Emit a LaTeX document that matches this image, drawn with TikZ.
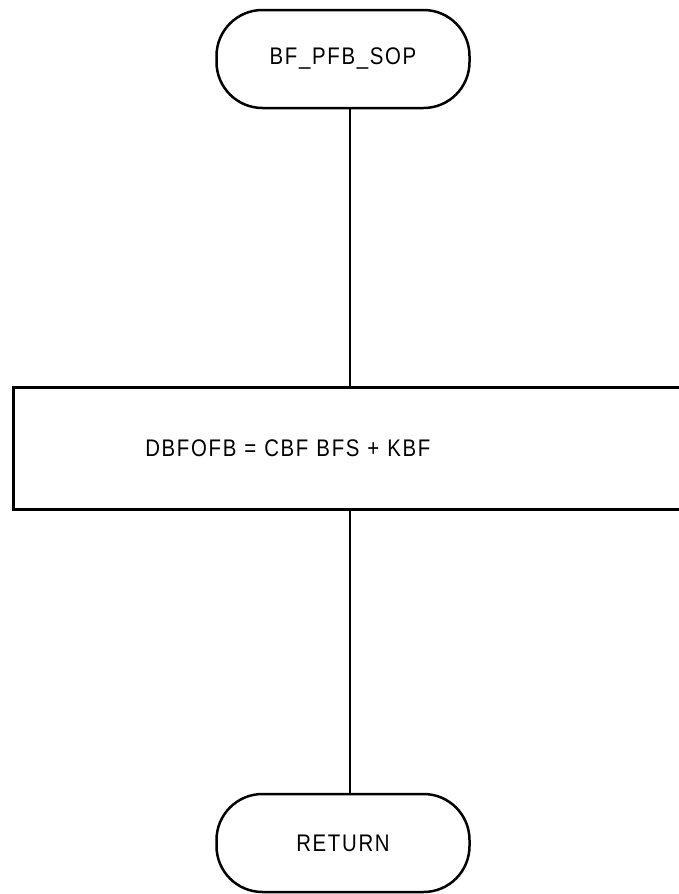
\documentclass[tikz,border=0pt]{standalone}
\usepackage{fontspec}
\setmainfont{Liberation Sans}[FakeStretch=0.85,LetterSpace=7]
\usetikzlibrary{positioning}

\begin{document}
\begin{tikzpicture}[
  x=1pt, y=-1pt,
  every node/.style={font=\fontsize{24}{28}\selectfont},
  term/.style={draw, line width=2.5pt, rounded corners=46pt, minimum width=253pt,
               minimum height=98pt, inner sep=0pt},
  proc/.style={draw, line width=2.5pt, minimum height=122pt, text width=600pt,
               align=left, inner xsep=132pt, inner ysep=0pt},
  flux/.style={line width=2.5pt}
]
\useasboundingbox (0,0) rectangle (679,894);
\clip (0,0) rectangle (679,894);

% ---- debut et fin ----
\node[term] (debut) at (343,59)  {BF\_PFB\_SOP};
\node[term] (fin)   at (343,843) {RETURN};

% ---- calcul ----
\node[proc, anchor=north west] (calc) at (12,386) {DBFOFB = CBF BFS + KBF};

% ---- liaisons ----
\coordinate (axe) at (350,0);
\draw[flux] (axe |- debut.south) -- (axe |- calc.north);
\draw[flux] (axe |- calc.south) -- (axe |- fin.north);

\end{tikzpicture}
\end{document}
